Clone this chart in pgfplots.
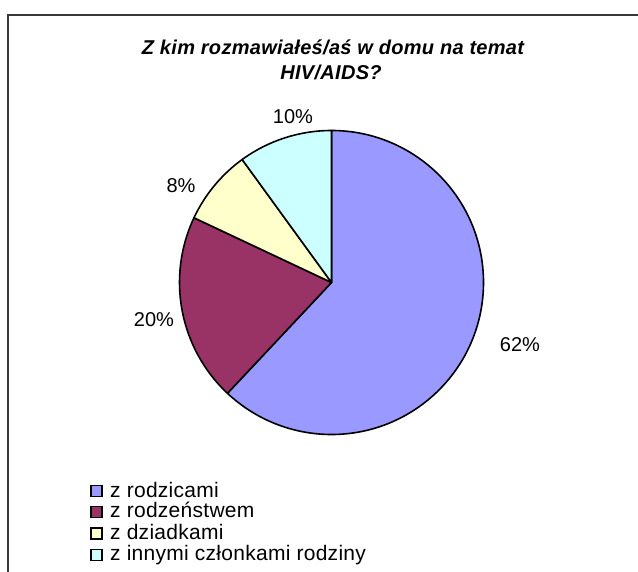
\documentclass[border=0pt]{standalone}
\usepackage{fontspec}
\setmainfont{Liberation Sans}
\newfontfamily\titlefont[LetterSpace=1.5]{Liberation Sans}
\newfontfamily\labfont{Liberation Sans}
\newfontfamily\legfont[LetterSpace=1.3]{Liberation Sans}
\usepackage{pgfplots}
\pgfplotsset{compat=1.18}
\usepackage{pgfplotstable}

\definecolor{pieblue}{HTML}{9999FF}
\definecolor{piemaroon}{HTML}{993366}
\definecolor{pieyellow}{HTML}{FFFFCC}
\definecolor{piecyan}{HTML}{CCFFFF}

\pgfplotstableread{
value
62
20
8
10
}\piedata

\pgfplotstablegetelem{0}{value}\of\piedata \edef\va{\pgfplotsretval}
\pgfplotstablegetelem{1}{value}\of\piedata \edef\vb{\pgfplotsretval}
\pgfplotstablegetelem{2}{value}\of\piedata \edef\vc{\pgfplotsretval}
\pgfplotstablegetelem{3}{value}\of\piedata \edef\vd{\pgfplotsretval}
\pgfmathsetmacro\aA{90}
\pgfmathsetmacro\aB{\aA-3.6*\va}
\pgfmathsetmacro\aC{\aB-3.6*\vb}
\pgfmathsetmacro\aD{\aC-3.6*\vc}
\pgfmathsetmacro\aE{\aD-3.6*\vd}
\def\R{152}

\begin{document}
\begin{tikzpicture}
\useasboundingbox (0,0) rectangle (638pt,571pt);
\clip (0,0) rectangle (638pt,571pt);
\fill[white] (0,0) rectangle (638pt,571pt);
\draw[line width=2pt, black!78] (8pt,-20pt) rectangle (660pt,556pt);

\node[anchor=base, inner sep=0pt, font=\titlefont\bfseries\itshape\fontsize{20}{22}\selectfont] at (333pt,516pt) {Z kim rozmawiałeś/aś w domu na temat};
\node[anchor=base, inner sep=0pt, font=\titlefont\bfseries\itshape\fontsize{20}{22}\selectfont] at (331pt,491pt) {HIV/AIDS?};

\begin{axis}[hide axis, x=1pt, y=1pt, xmin=-170, xmax=170, ymin=-170, ymax=170,
  scale only axis, anchor=origin, at={(331.5pt,288.5pt)}, clip=false]
\filldraw[fill=pieblue, draw=black, line width=1.6pt, line join=round] (axis cs:0,0) -- (axis cs:{\R*cos(\aA)},{\R*sin(\aA)}) arc[start angle=\aA, end angle=\aB, radius=\R pt] -- cycle;
\filldraw[fill=piemaroon, draw=black, line width=1.6pt, line join=round] (axis cs:0,0) -- (axis cs:{\R*cos(\aB)},{\R*sin(\aB)}) arc[start angle=\aB, end angle=\aC, radius=\R pt] -- cycle;
\filldraw[fill=pieyellow, draw=black, line width=1.6pt, line join=round] (axis cs:0,0) -- (axis cs:{\R*cos(\aC)},{\R*sin(\aC)}) arc[start angle=\aC, end angle=\aD, radius=\R pt] -- cycle;
\filldraw[fill=piecyan, draw=black, line width=1.6pt, line join=round] (axis cs:0,0) -- (axis cs:{\R*cos(\aD)},{\R*sin(\aD)}) arc[start angle=\aD, end angle=\aE, radius=\R pt] -- cycle;
\node[font=\labfont\fontsize{20}{22}\selectfont, inner sep=0pt] at (axis cs:188.5,-62.5) {\va\%};
\node[font=\labfont\fontsize{20}{22}\selectfont, inner sep=0pt] at (axis cs:-177.5,-37.5) {\vb\%};
\node[font=\labfont\fontsize{20}{22}\selectfont, inner sep=0pt] at (axis cs:-150.5,96.5) {\vc\%};
\node[font=\labfont\fontsize{20}{22}\selectfont, inner sep=0pt] at (axis cs:-38.5,165.5) {\vd\%};
\end{axis}

% legend
\foreach \c/\t/\yb in {pieblue/z rodzicami/497, piemaroon/z rodzeństwem/518, pieyellow/z dziadkami/539.5, piecyan/z innymi członkami rodziny/561}{
  \pgfmathsetmacro\yy{571-\yb}
  \filldraw[fill=\c, draw=black, line width=1.8pt] (91pt,\yy pt+0.5pt) rectangle (102pt,\yy pt+11.5pt);
  \node[anchor=base west, inner sep=0pt, font=\legfont\fontsize{21}{23}\selectfont] at (110pt,\yy pt) {\t};
}
\end{tikzpicture}
\end{document}
